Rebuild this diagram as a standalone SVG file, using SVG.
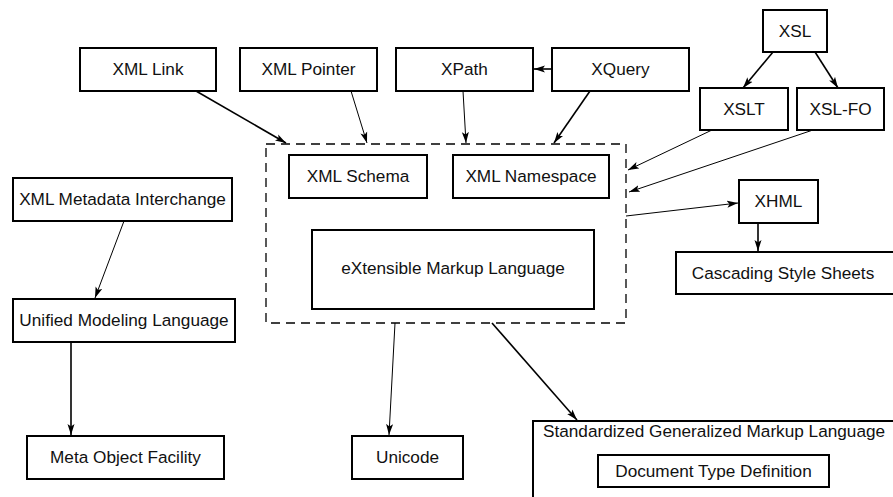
<svg xmlns="http://www.w3.org/2000/svg" width="893" height="497" viewBox="0 0 893 497">
<defs>
<marker id="ah" markerWidth="12" markerHeight="8" refX="11" refY="4" orient="auto" markerUnits="userSpaceOnUse">
<path d="M0,0.5 L11,4 L0,7.5 L2.5,4 z" fill="#000"/>
</marker>
</defs>
<style>
.n rect{fill:#fff;stroke:#000;stroke-width:2}
text{font-family:"Liberation Sans",Arial,sans-serif;font-size:17.2px;fill:#111;text-anchor:middle}
.c line{stroke:#000;fill:none;marker-end:url(#ah)}
.t{stroke-width:1}
.k{stroke-width:1.6}
</style>
<rect width="893" height="497" fill="#fff"/>
<g id="xml-group"><rect x="266" y="144" width="360" height="179" fill="none" stroke="#000" stroke-width="1.3" stroke-dasharray="9 6"/></g>
<g id="xml-link" class="n"><rect x="80" y="48" width="136" height="43"/><text x="148" y="75">XML Link</text></g>
<g id="xml-pointer" class="n"><rect x="240" y="48" width="137" height="43"/><text x="308.5" y="75">XML Pointer</text></g>
<g id="xpath" class="n"><rect x="396" y="48" width="137" height="43"/><text x="464.5" y="75">XPath</text></g>
<g id="xquery" class="n"><rect x="552" y="48" width="137" height="43"/><text x="620.5" y="75">XQuery</text></g>
<g id="xsl" class="n"><rect x="763" y="10" width="64" height="42"/><text x="795" y="37">XSL</text></g>
<g id="xslt" class="n"><rect x="700" y="88" width="88" height="42"/><text x="744" y="115">XSLT</text></g>
<g id="xsl-fo" class="n"><rect x="797" y="88" width="87" height="42"/><text x="840.5" y="115">XSL-FO</text></g>
<g id="xml-schema" class="n"><rect x="289" y="155" width="138" height="43"/><text x="358" y="182">XML Schema</text></g>
<g id="xml-namespace" class="n"><rect x="453" y="155" width="156" height="43"/><text x="531" y="182">XML Namespace</text></g>
<g id="xml" class="n"><rect x="312" y="230" width="282" height="79"/><text x="453" y="274">eXtensible Markup Language</text></g>
<g id="xhml" class="n"><rect x="739" y="180" width="79" height="43"/><text x="778.5" y="207">XHML</text></g>
<g id="css" class="n"><rect x="676" y="252" width="222" height="42"/><text x="783" y="279">Cascading Style Sheets</text></g>
<g id="xmi" class="n"><rect x="13" y="178" width="219" height="43"/><text x="122.5" y="205">XML Metadata Interchange</text></g>
<g id="uml" class="n"><rect x="13" y="299" width="222" height="43"/><text x="124" y="326">Unified Modeling Language</text></g>
<g id="mof" class="n"><rect x="27" y="436" width="197" height="43"/><text x="125.5" y="463">Meta Object Facility</text></g>
<g id="unicode" class="n"><rect x="352" y="436" width="111" height="43"/><text x="407.5" y="463">Unicode</text></g>
<g id="sgml" class="n"><rect x="533" y="421" width="370" height="90"/><text x="543" y="437" style="text-anchor:start">Standardized Generalized Markup Language</text></g>
<g id="dtd" class="n"><rect x="598" y="455" width="231" height="32"/><text x="713.5" y="477">Document Type Definition</text></g>
<g id="connectors" class="c">
<line class="k" x1="196" y1="91" x2="286" y2="143"/>
<line class="t" x1="351" y1="91" x2="367" y2="143"/>
<line class="t" x1="463" y1="91" x2="466" y2="143"/>
<line class="k" x1="552" y1="69" x2="534" y2="69"/>
<line class="k" x1="590" y1="91" x2="554" y2="143"/>
<line class="k" x1="773" y1="52" x2="743" y2="88"/>
<line class="k" x1="815" y1="52" x2="838" y2="88"/>
<line class="t" x1="712" y1="130" x2="628" y2="170"/>
<line class="t" x1="813" y1="130" x2="629" y2="192"/>
<line class="t" x1="626" y1="216" x2="738" y2="203"/>
<line class="k" x1="758" y1="223" x2="758" y2="251"/>
<line class="t" x1="124" y1="221" x2="95" y2="298"/>
<line class="k" x1="71" y1="342" x2="71" y2="435"/>
<line class="t" x1="395" y1="323" x2="389" y2="435"/>
<line class="k" x1="492" y1="323" x2="577" y2="420"/>
</g>
</svg>
